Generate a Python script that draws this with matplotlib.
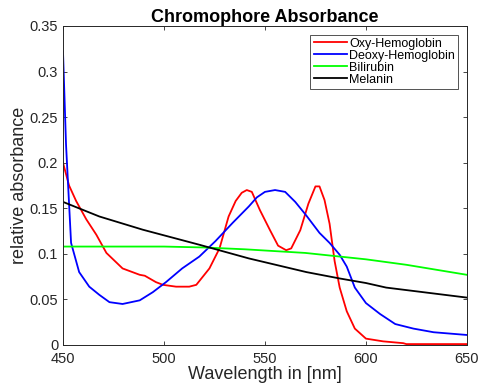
import matplotlib.pyplot as plt

plt.rcParams["font.family"] = ["Liberation Sans", "DejaVu Sans"]

# absorbance spectra, wavelength in nm
oxy_wl = [450, 453, 456.5, 461.5, 466.5, 471.5, 479.5, 488, 490.5, 496, 499.5,
          506, 512.5, 516, 522.5, 527.5, 532, 535.5, 538.5, 541, 543.5, 547.5,
          552.5, 556.5, 560.5, 563, 567.5, 571.5, 575, 577, 579.5, 582, 584.5,
          587, 590.5, 594.5, 600, 608.5, 618.5, 620, 650]
oxy_abs = [0.200, 0.175, 0.158, 0.138, 0.121, 0.101, 0.084, 0.077, 0.076, 0.069,
           0.066, 0.064, 0.064, 0.066, 0.084, 0.106, 0.141, 0.158, 0.167, 0.170,
           0.168, 0.148, 0.126, 0.109, 0.104, 0.106, 0.126, 0.155, 0.174, 0.174,
           0.159, 0.133, 0.092, 0.063, 0.037, 0.018, 0.007, 0.004, 0.002, 0.001,
           0.001]

deoxy_wl = [450, 451.5, 454, 458, 463, 468, 473, 479.5, 488, 494.5, 501, 509,
            517.5, 525.5, 534, 542, 546, 550, 555, 560, 565, 570.5, 577, 582,
            587, 590.5, 594.5, 600, 607, 614.5, 623.5, 633.5, 650]
deoxy_abs = [0.322, 0.220, 0.112, 0.080, 0.064, 0.055, 0.047, 0.045, 0.049, 0.058,
             0.069, 0.084, 0.097, 0.114, 0.134, 0.152, 0.162, 0.168, 0.170, 0.168,
             0.157, 0.142, 0.123, 0.112, 0.099, 0.086, 0.063, 0.046, 0.034, 0.023,
             0.018, 0.014, 0.011]

bili_wl = [450, 480, 500, 520, 540, 570, 600, 620, 650]
bili_abs = [0.108, 0.108, 0.108, 0.107, 0.105, 0.101, 0.094, 0.088, 0.077]

mel_wl = [450, 468, 489.5, 517.5, 542, 570.5, 587, 600, 610, 650]
mel_abs = [0.157, 0.141, 0.1265, 0.110, 0.095, 0.080, 0.073, 0.068, 0.063, 0.052]

fig = plt.figure(figsize=(4.82, 3.85), dpi=100)
ax = fig.add_axes([0.1307, 0.1039, 0.838, 0.8286])

ax.plot(oxy_wl, oxy_abs, color="#ff0000", lw=1.3, label="Oxy-Hemoglobin")
ax.plot(deoxy_wl, deoxy_abs, color="#0000ff", lw=1.3, label="Deoxy-Hemoglobin")
ax.plot(bili_wl, bili_abs, color="#00ff00", lw=1.3, label="Bilirubin")
ax.plot(mel_wl, mel_abs, color="#000000", lw=1.3, label="Melanin")

ax.set_xlim(450, 650)
ax.set_ylim(0, 0.35)
ax.set_xticks([450, 500, 550, 600, 650])
ax.set_yticks([0, 0.05, 0.1, 0.15, 0.2, 0.25, 0.3, 0.35])
ax.set_yticklabels(["0", "0.05", "0.1", "0.15", "0.2", "0.25", "0.3", "0.35"])

# matlab-like axes: inward ticks on all four sides
ax.tick_params(direction="in", top=True, right=True, length=3, width=0.6,
               labelsize=10.5, colors="#262626")
ax.tick_params(axis="x", pad=5)
ax.tick_params(axis="y", pad=3.5)
for s in ax.spines.values():
    s.set_color("#262626")
    s.set_linewidth(0.7)

ax.set_title("Chromophore Absorbance", fontsize=13, fontweight="bold", pad=3)
ax.set_xlabel("Wavelength in [nm]", fontsize=13, color="#262626", labelpad=0)
ax.set_ylabel("relative absorbance", fontsize=13, color="#262626", labelpad=1)

leg = ax.legend(loc="upper right", fontsize=9, frameon=True, fancybox=False,
                handlelength=2.7, handletextpad=0.15, labelspacing=0.0,
                borderpad=0.25, borderaxespad=0.7)
leg.get_frame().set_edgecolor("#262626")
leg.get_frame().set_linewidth(0.7)

fig.savefig("out.png", dpi=100)
